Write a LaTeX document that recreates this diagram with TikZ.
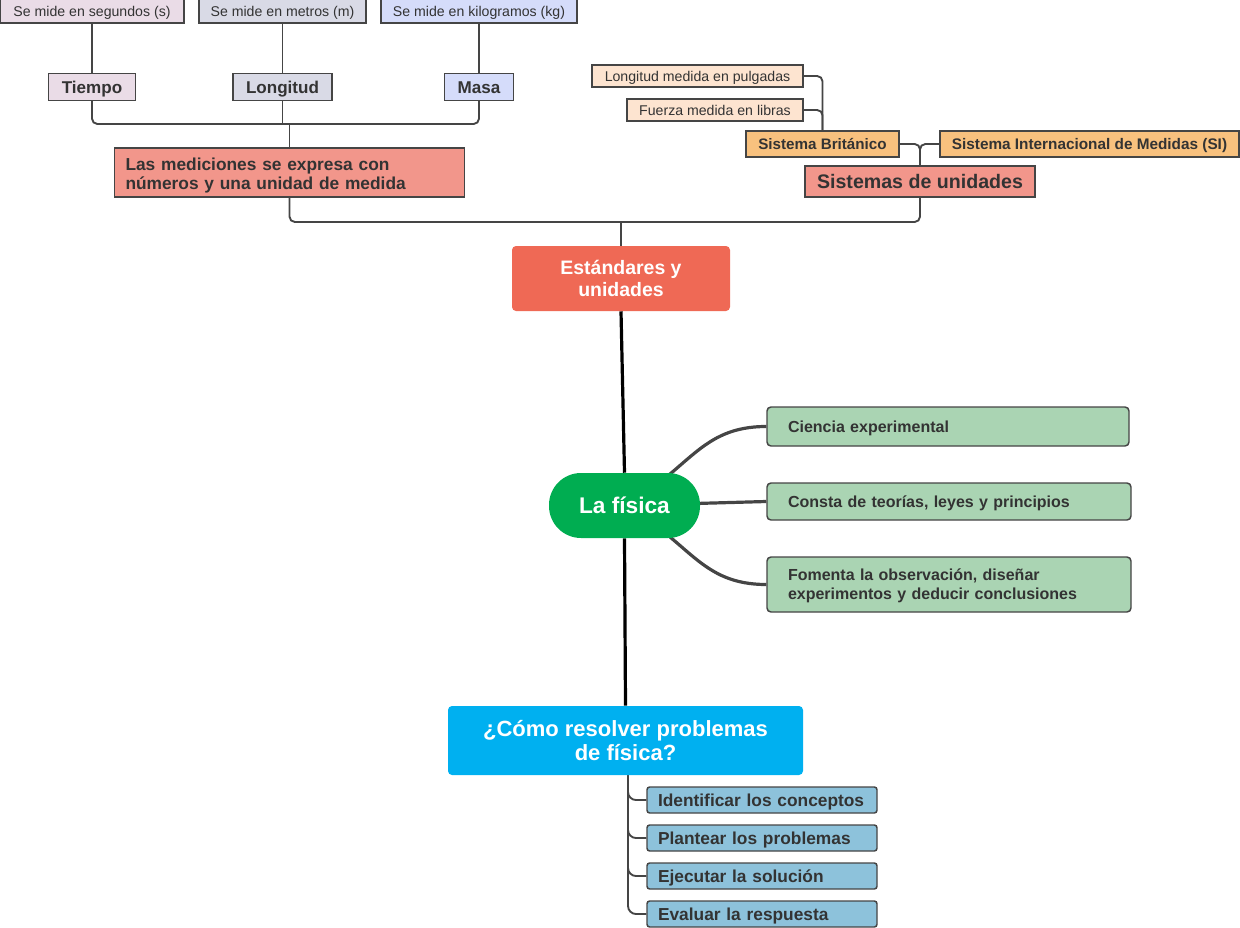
\documentclass[tikz,border=0pt]{standalone}
\usepackage{fontspec}
\setmainfont{Liberation Sans}
\usetikzlibrary{backgrounds,calc}
\definecolor{lineC}{HTML}{454545}
\definecolor{textC}{HTML}{333333}
\definecolor{pinkC}{HTML}{EADCE7}
\definecolor{grayC}{HTML}{D9DAE6}
\definecolor{blueC}{HTML}{D5DCFA}
\definecolor{salmonC}{HTML}{F2968B}
\definecolor{orangeC}{HTML}{F8C17E}
\definecolor{peachC}{HTML}{FDE4D0}
\definecolor{coralC}{HTML}{EF6955}
\definecolor{greenC}{HTML}{00AD51}
\definecolor{lgreenC}{HTML}{AAD4B3}
\definecolor{cyanC}{HTML}{00B0F0}
\definecolor{lblueC}{HTML}{8DC2DB}
\begin{document}
\begin{tikzpicture}[x=0.75pt,y=-0.75pt,
  box/.style={draw=lineC, line width=1.1pt, text=textC, inner sep=0pt},
  sz/.style 2 args={minimum width=#1*0.75pt, minimum height=#2*0.75pt},
  lbox/.style 2 args={text width=#1*0.75pt, inner xsep=#2*0.75pt, align=left},
  smallf/.style={font=\fontsize{10.6}{12}\selectfont, text height=7.59pt, text depth=0pt},
  midf/.style={font=\bfseries\fontsize{12.8}{15}\selectfont, text height=9.16pt, text depth=0pt},
  cf/.style={font=\bfseries\fontsize{12}{14.25}\selectfont, text height=8.59pt, text depth=0pt},
  bf/.style={font=\bfseries\fontsize{13}{15}\selectfont, text height=9.31pt, text depth=0pt},
  conn/.style={draw=lineC, line width=1.4pt, rounded corners=4pt},
  spine/.style={draw=black, line width=2.4pt},
  branch/.style={draw=lineC, line width=2.4pt}]
\useasboundingbox (0,0) rectangle (1240,928);

% top row
\node[box, smallf, fill=pinkC, sz={184}{24}] (seg) at (92,11) {Se mide en segundos (s)};
\node[box, smallf, fill=grayC, sz={167}{24}] (met) at (282.5,11) {Se mide en metros (m)};
\node[box, smallf, fill=blueC, sz={196}{24}] (kg) at (479,11) {Se mide en kilogramos (kg)};
\node[box, midf, fill=pinkC, sz={87}{27}] (tiempo) at (92,87) {Tiempo};
\node[box, midf, fill=grayC, sz={99}{27}] (longitud) at (282.5,87) {Longitud};
\node[box, midf, fill=blueC, sz={69}{27}] (masa) at (479,87) {Masa};
\node[box, fill=salmonC, lbox={328}{11}, minimum height=49*0.75pt,
  font=\bfseries\fontsize{13}{14.5}\selectfont, text height=9.31pt, text depth=13pt] (medic) at (289.5,172.5)
  {Las mediciones se expresa con\\números y una unidad de medida};

% right top
\node[box, fill=salmonC, sz={230}{31}, font=\bfseries\fontsize{14.7}{17}\selectfont, text height=10.53pt, text depth=0pt] (sisu) at (920,181.5) {Sistemas de unidades};
\node[box, fill=orangeC, sz={153}{26}, font=\bfseries\fontsize{11.4}{13}\selectfont, text height=8.16pt, text depth=0pt] (brit) at (822.5,144) {Sistema Británico};
\node[box, fill=orangeC, sz={299}{26}, font=\bfseries\fontsize{11.5}{13}\selectfont, text height=8.23pt, text depth=0pt] (si) at (1089.5,144) {Sistema Internacional de Medidas (SI)};
\node[box, smallf, fill=peachC, sz={211}{22}] (pulg) at (697.5,76) {Longitud medida en pulgadas};
\node[box, smallf, fill=peachC, sz={176}{22}] (libras) at (715,110) {Fuerza medida en libras};

% central
\node[fill=coralC, rounded corners=3pt, sz={218}{65}, text=white, align=center,
  font=\bfseries\fontsize{14.6}{17}\selectfont, text height=27.45pt, text depth=0pt] (est) at (621,278.5) {Estándares y\\unidades};
\node[fill=greenC, rounded corners=24pt, sz={151}{65}, text=white,
  font=\bfseries\fontsize{17}{20}\selectfont, text height=12.17pt, text depth=0pt] (fis) at (624.5,505.5) {La física};
\node[fill=cyanC, rounded corners=3pt, sz={355}{69}, text=white, align=center,
  font=\bfseries\fontsize{16.5}{18}\selectfont, text height=29.81pt, text depth=0pt] (como) at (625.5,740.5) {¿Cómo resolver problemas\\de física?};

% green
\node[box, cf, fill=lgreenC, rounded corners=3pt, lbox={320}{21}, minimum height=39*0.75pt] (c1) at (948,426.5) {Ciencia experimental};
\node[box, cf, fill=lgreenC, rounded corners=3pt, lbox={322}{21}, minimum height=37*0.75pt] (c2) at (949,501.5) {Consta de teorías, leyes y principios};
\node[box, cf, text depth=14.25pt, fill=lgreenC, rounded corners=3pt, lbox={322}{21}, minimum height=55*0.75pt] (c3) at (949,584.5) {Fomenta la observación, diseñar\\experimentos y deducir conclusiones};

% blue
\foreach \n/\yy/\t in {b1/800/Identificar los conceptos, b2/838/Plantear los problemas, b3/876/Ejecutar la solución, b4/914/Evaluar la respuesta}{
  \node[box, bf, fill=lblueC, rounded corners=2pt, lbox={208}{11}, minimum height=26*0.75pt] (\n) at (762,\yy) {\mbox{\t}};
}

\begin{scope}[on background layer]
  \draw[conn] (seg.south) -- (tiempo.north);
  \draw[conn] (met.south) -- (longitud.north);
  \draw[conn] (kg.south) -- (masa.north);
  \coordinate (j1) at (289.5,124);
  \draw[conn] (tiempo.south) |- (j1) -| (masa.south);
  \draw[conn] (longitud.south) -- (longitud.south |- j1);
  \draw[conn] (j1) -- (medic.north);
  \coordinate (j2) at (621,222);
  \draw[conn] (medic.south) |- (j2) -| (sisu.south);
  \draw[conn] (j2) -- (est.north);
  \draw[conn] (brit.east) -| (sisu.north);
  \draw[conn] (si.west) -| (sisu.north);
  \draw[conn] (pulg.east) -| (brit.north);
  \draw[conn] (libras.east) -| (brit.north);
  \draw[spine] (est.south) -- (fis.north);
  \draw[spine] (fis.south) -- (como.north);
  \draw[branch] (fis.center) .. controls (690,470) and (700,426.5) .. (c1.west);
  \draw[branch] (fis.center) -- (c2.west);
  \draw[branch] (fis.center) .. controls (690,541) and (700,584.5) .. (c3.west);
  \coordinate (cs) at ($(como.south)+(2.5,0)$);
  \foreach \n in {b1,b2,b3,b4}{
    \draw[conn, rounded corners=6pt] (cs) |- (\n.west);
  }
\end{scope}
\end{tikzpicture}
\end{document}
